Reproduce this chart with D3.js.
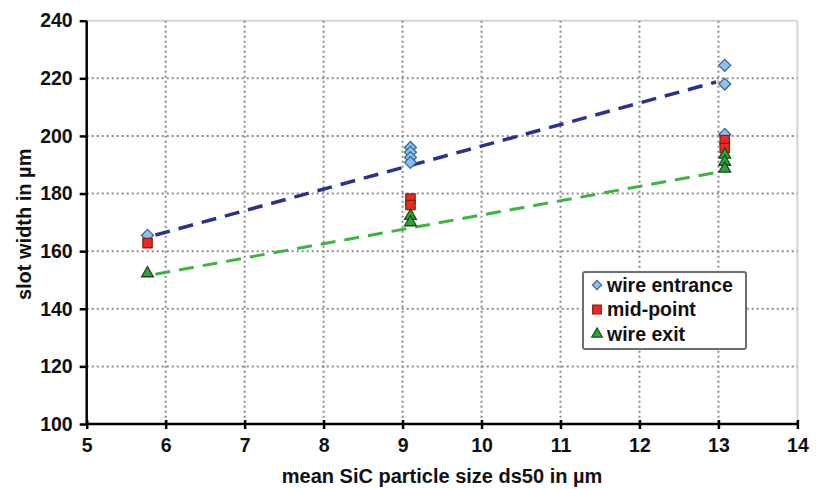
<!DOCTYPE html>
<html>
<head>
<meta charset="utf-8">
<script src="https://cdn.jsdelivr.net/npm/d3@7"></script>
<style>
body { margin: 0; background: #fff; }
text { font-family: "Liberation Sans", Arial, sans-serif; font-weight: bold; }
</style>
</head>
<body>
<svg id="chart" width="819" height="489"></svg>
<script>
// series data
var entranceX = [5.77, 9.1, 9.1, 9.1, 9.1, 13.08, 13.08, 13.08];
var entranceY = [165.5, 196, 194.3, 192.5, 190.8, 224.5, 218, 200.5];
var midX = [5.77, 9.1, 9.1, 13.08, 13.08];
var midY = [162.8, 178.3, 176, 198.6, 195.8];
var exitX = [5.77, 9.1, 9.1, 13.08, 13.08, 13.08];
var exitY = [152.3, 172.2, 170, 193.5, 191, 188.6];

// linear trendlines (end points)
var trendX = [5.87, 12.97];
var entranceTrend = [165.6, 218.7];
var exitTrend = [152, 187.3];

var xTicks = [5, 6, 7, 8, 9, 10, 11, 12, 13, 14];
var yTicks = [100, 120, 140, 160, 180, 200, 220, 240];

var legendNames = ["wire entrance", "mid-point", "wire exit"];

var svg = d3.select("#chart");

var mLeft = 86.7, mRight = 797.4, mTop = 20.7, mBottom = 424;

var x = d3.scaleLinear().domain([5, 14]).range([mLeft, mRight]);
var y = d3.scaleLinear().domain([100, 240]).range([mBottom, mTop]);

//frame top / right in light gray
svg.append("line")
	.attr("x1", mLeft).attr("x2", mRight)
	.attr("y1", mTop).attr("y2", mTop)
	.style("stroke", "#d4d4d4").style("stroke-width", 2);
svg.append("line")
	.attr("x1", mRight).attr("x2", mRight)
	.attr("y1", mTop).attr("y2", mBottom)
	.style("stroke", "#d4d4d4").style("stroke-width", 2);

//dotted grid
svg.selectAll("line.hgrid")
	.data(yTicks.filter(function(d){ return d > 100 && d < 240; }))
	.enter()
	.append("line")
	.attr("class", "hgrid")
	.attr("x1", mLeft).attr("x2", mRight)
	.attr("y1", function(d){ return y(d); })
	.attr("y2", function(d){ return y(d); })
	.style("stroke", "#8a8a8a")
	.style("stroke-width", 2)
	.style("stroke-dasharray", "2,3");

svg.selectAll("line.vgrid")
	.data(xTicks.filter(function(d){ return d > 5 && d < 14; }))
	.enter()
	.append("line")
	.attr("class", "vgrid")
	.attr("y1", mTop).attr("y2", mBottom)
	.attr("x1", function(d){ return x(d); })
	.attr("x2", function(d){ return x(d); })
	.style("stroke", "#8a8a8a")
	.style("stroke-width", 2)
	.style("stroke-dasharray", "2,3");

//axes
var xAxis = svg.append("g")
	.attr("transform", "translate(0," + mBottom + ")")
	.call(d3.axisBottom(x).tickValues(xTicks).tickSize(5).tickPadding(9));
var yAxis = svg.append("g")
	.attr("transform", "translate(" + mLeft + ",0)")
	.call(d3.axisLeft(y).tickValues(yTicks).tickSize(7).tickPadding(7));

[xAxis, yAxis].forEach(function(a){
	a.select(".domain").style("stroke", "#000").style("stroke-width", 2.5);
	a.selectAll(".tick line").style("stroke", "#000").style("stroke-width", 2.5);
	a.selectAll(".tick text")
		.style("font-size", "19.5px")
		.style("font-weight", "bold")
		.style("font-family", "'Liberation Sans', Arial, sans-serif")
		.style("fill", "#111");
});
//x ticks cross the axis a bit
xAxis.selectAll(".tick line").attr("y1", -4);
xAxis.select(".domain").attr("d", "M" + mLeft + ",0H" + mRight);
yAxis.select(".domain").attr("d", "M0," + mBottom + "V" + mTop);

//axis titles
svg.append("text")
	.attr("x", (mLeft + mRight) / 2)
	.attr("y", 483)
	.attr("text-anchor", "middle")
	.style("font-size", "20px")
	.style("fill", "#111")
	.text("mean SiC particle size ds50 in µm");

svg.append("text")
	.attr("transform", "translate(31," + ((mTop + mBottom) / 2 + 2) + ") rotate(-90)")
	.attr("text-anchor", "middle")
	.style("font-size", "20px")
	.style("fill", "#111")
	.text("slot width in µm");

//trendlines
svg.append("line")
	.attr("x1", x(trendX[0])).attr("x2", x(trendX[1]))
	.attr("y1", y(entranceTrend[0])).attr("y2", y(entranceTrend[1]))
	.style("stroke", "#2b3192")
	.style("stroke-width", 3.5)
	.style("stroke-dasharray", "15,9");

svg.append("line")
	.attr("x1", x(trendX[0])).attr("x2", x(trendX[1]))
	.attr("y1", y(exitTrend[0])).attr("y2", y(exitTrend[1]))
	.style("stroke", "#3cb540")
	.style("stroke-width", 3)
	.style("stroke-dasharray", "15,9");

//markers
var diamond = d3.symbol().type(d3.symbolDiamond2).size(90);
var square = d3.symbol().type(d3.symbolSquare2).size(110);
var triangle = d3.symbol().type(d3.symbolTriangle2).size(100);

function drawSeries(xs, ys, sym, fill, stroke) {
	svg.append("g").selectAll("path")
		.data(xs.map(function(d, i){ return [d, ys[i]]; }))
		.enter()
		.append("path")
		.attr("d", sym)
		.attr("transform", function(d){ return "translate(" + x(d[0]) + "," + y(d[1]) + ")"; })
		.style("fill", fill)
		.style("stroke", stroke)
		.style("stroke-width", 1.3);
}

drawSeries(entranceX, entranceY, diamond, "#8dc0ea", "#3a6898");
drawSeries(midX, midY, square, "#ee2a1f", "#8a1c12");
drawSeries(exitX, exitY, triangle, "#2fa23a", "#144d18");

//legend
var legend = svg.append("g");
legend.append("rect")
	.attr("x", 583).attr("y", 272)
	.attr("width", 163).attr("height", 77)
	.attr("rx", 2)
	.style("fill", "#fff")
	.style("stroke", "#6e6e6e")
	.style("stroke-width", 2);

var legSyms = [
	{ sym: d3.symbol().type(d3.symbolDiamond2).size(55), fill: "#8dc0ea", stroke: "#3a6898" },
	{ sym: d3.symbol().type(d3.symbolSquare2).size(95), fill: "#ee2a1f", stroke: "#8a1c12" },
	{ sym: d3.symbol().type(d3.symbolTriangle2).size(80), fill: "#2fa23a", stroke: "#144d18" }
];

legendNames.forEach(function(name, i){
	var ly = 285 + i * 24.5;
	legend.append("path")
		.attr("d", legSyms[i].sym)
		.attr("transform", "translate(597," + ly + ")")
		.style("fill", legSyms[i].fill)
		.style("stroke", legSyms[i].stroke)
		.style("stroke-width", 1.2);
	legend.append("text")
		.attr("x", 607)
		.attr("y", ly)
		.attr("dy", ".35em")
		.style("font-size", "19.5px")
		.style("fill", "#111")
		.text(name);
});
</script>
</body>
</html>
